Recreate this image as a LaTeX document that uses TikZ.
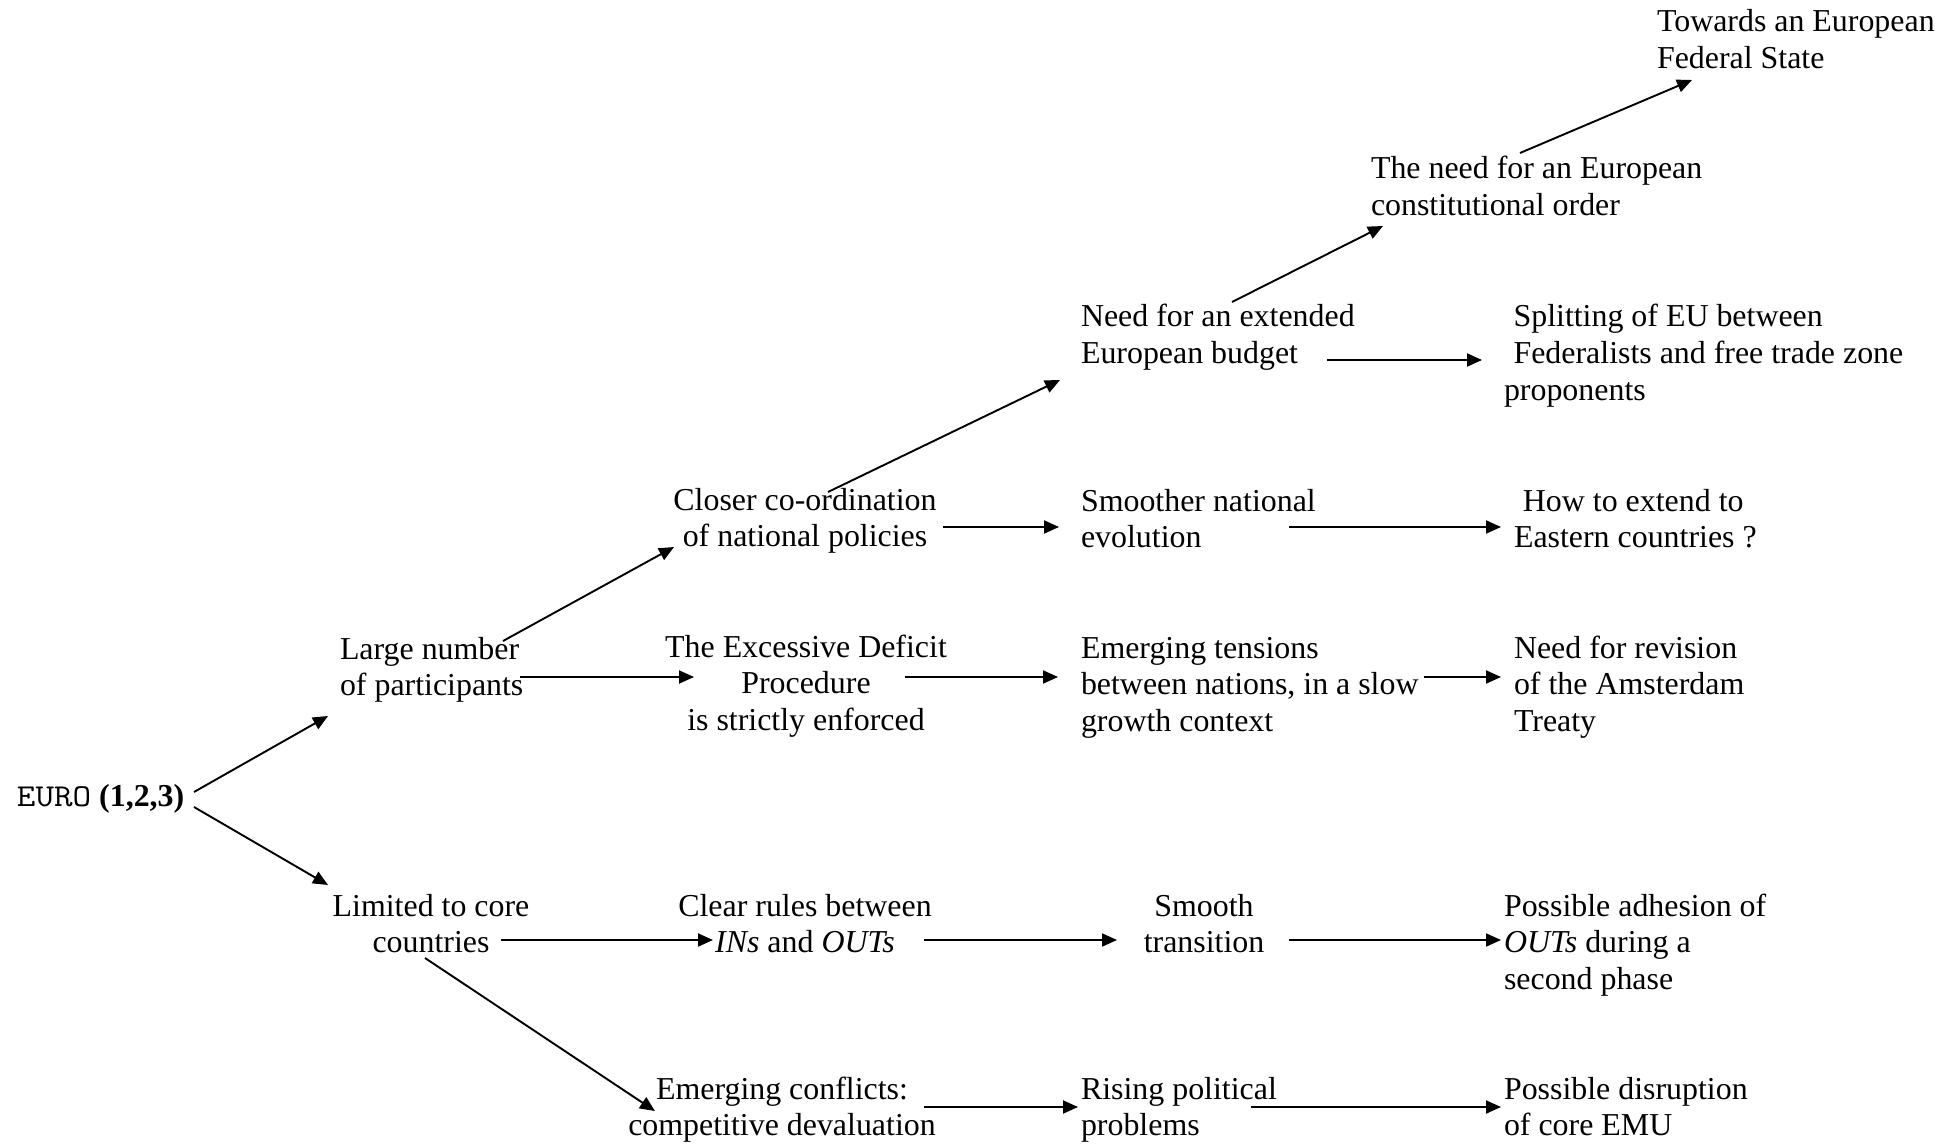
\documentclass[tikz,border=0pt]{standalone}
\usepackage{fontspec}
\setmainfont{Liberation Serif}
\usetikzlibrary{arrows.meta}
% multi-line labels whose baseline is the one of the first line
\newcommand{\stackL}[1]{\begin{tabular}[t]{@{}l@{}}#1\end{tabular}}
\newcommand{\stackC}[1]{\begin{tabular}[t]{@{}c@{}}#1\end{tabular}}
% typewriter word widened to Courier proportions
\newcommand{\wideTT}[1]{\scalebox{1.13}[1]{\texttt{#1}}}

\begin{document}
\begin{tikzpicture}[x=0.5pt,y=-0.5pt,
  txt/.style={inner sep=0pt, outer sep=0pt, font=\fontsize{15.95}{18.45}\selectfont},
  lft/.style={txt, anchor=base west},
  ctr/.style={txt, anchor=base},
  arr/.style={-{Triangle[length=7.5pt,width=6.5pt]}, line width=0.95pt}]

\fill[white] (0,0) rectangle (1959,1144);
\useasboundingbox (0,0) rectangle (1959,1144);

% ---- statements ----
\node[lft] (euro) at (17,806) {\wideTT{EURO} \textbf{(1,2,3)}};

\node[lft] (large) at (340,659) {\stackL{Large number\\of participants}};
\node[ctr] (limited) at (431,916) {\stackC{Limited to core\\countries}};

\node[ctr] (closer) at (805,510) {\stackC{Closer co-ordination\\of national policies}};
\node[ctr] (edp) at (806,657) {\stackC{The Excessive Deficit\\Procedure\\is strictly enforced}};
\node[ctr] (clear) at (805,916) {\stackC{Clear rules between\\\textit{INs} and \textit{OUTs}}};
\node[ctr] (conflicts) at (782,1099) {\stackC{Emerging conflicts:\\competitive devaluation}};

\node[lft] (budget) at (1081,327) {\stackL{Need for an extended\\European budget}};
\node[lft] (smoother) at (1081,511) {\stackL{Smoother national\\evolution}};
\node[lft] (tensions) at (1081,658) {\stackL{Emerging tensions\\between nations, in a slow\\growth context}};
\node[ctr] (smooth) at (1204,916) {\stackC{Smooth\\transition}};
\node[lft] (rising) at (1081,1099) {\stackL{Rising political\\problems}};

\node[lft] (constit) at (1371,179) {\stackL{The need for an European\\constitutional order}};
\node[lft] (towards) at (1657,32) {\stackL{Towards an European\\Federal State}};

\node[lft] (splitting) at (1504,327) {\stackL{\hspace*{0.3em}Splitting of EU between\\\hspace*{0.3em}Federalists and free trade zone\\proponents}};
\node[lft] (extend) at (1514,511) {\stackL{\hspace*{0.28em}How to extend to\\Eastern countries ?}};
\node[lft] (revision) at (1514,658) {\stackL{Need for revision\\of the Amsterdam\\Treaty}};
\node[lft] (adhesion) at (1504,916) {\stackL{Possible adhesion of\\\textit{OUTs} during a\\second phase}};
\node[lft] (disruption) at (1504,1099) {\stackL{Possible disruption\\of core EMU}};

% ---- connectors ----
\draw[arr] ([shift={(177,-14)}]euro.base west) -- ([shift={(-12,57)}]large.base west);
\draw[arr] ([shift={(177,1)}]euro.base west) -- ([shift={(-103,-31)}]limited.base);

\draw[arr] ([shift={(163,-18)}]large.base west) -- ([shift={(-131,37)}]closer.base);
\draw[arr] ([shift={(180,18)}]large.base west) -- ([shift={(-112,20)}]edp.base);

\draw[arr] ([shift={(23,-18)}]closer.base) -- ([shift={(-21,53)}]budget.base west);
\draw[arr] ([shift={(138,17)}]closer.base) -- ([shift={(-22,16)}]smoother.base west);
\draw[arr] ([shift={(208,16)}]smoother.base west) -- ([shift={(-13,16)}]extend.base west);

\draw[arr] ([shift={(99,20)}]edp.base) -- ([shift={(-23,19)}]tensions.base west);
\draw[arr] ([shift={(343,19)}]tensions.base west) -- ([shift={(-13,19)}]revision.base west);

\draw[arr] ([shift={(246,33)}]budget.base west) -- ([shift={(-22,33)}]splitting.base west);
\draw[arr] ([shift={(151,-25)}]budget.base west) -- ([shift={(12,47)}]constit.base west);
\draw[arr] ([shift={(149,-26)}]constit.base west) -- ([shift={(35,48)}]towards.base west);

\draw[arr] ([shift={(70,24)}]limited.base) -- ([shift={(-92,24)}]clear.base);
\draw[arr] ([shift={(-6,42)}]limited.base) -- ([shift={(-127,12)}]conflicts.base);
\draw[arr] ([shift={(119,24)}]clear.base) -- ([shift={(-87,24)}]smooth.base);
\draw[arr] ([shift={(85,24)}]smooth.base) -- ([shift={(-3,24)}]adhesion.base west);

\draw[arr] ([shift={(142,8)}]conflicts.base) -- ([shift={(-3,8)}]rising.base west);
\draw[arr] ([shift={(170,8)}]rising.base west) -- ([shift={(-3,8)}]disruption.base west);
\end{tikzpicture}
\end{document}
